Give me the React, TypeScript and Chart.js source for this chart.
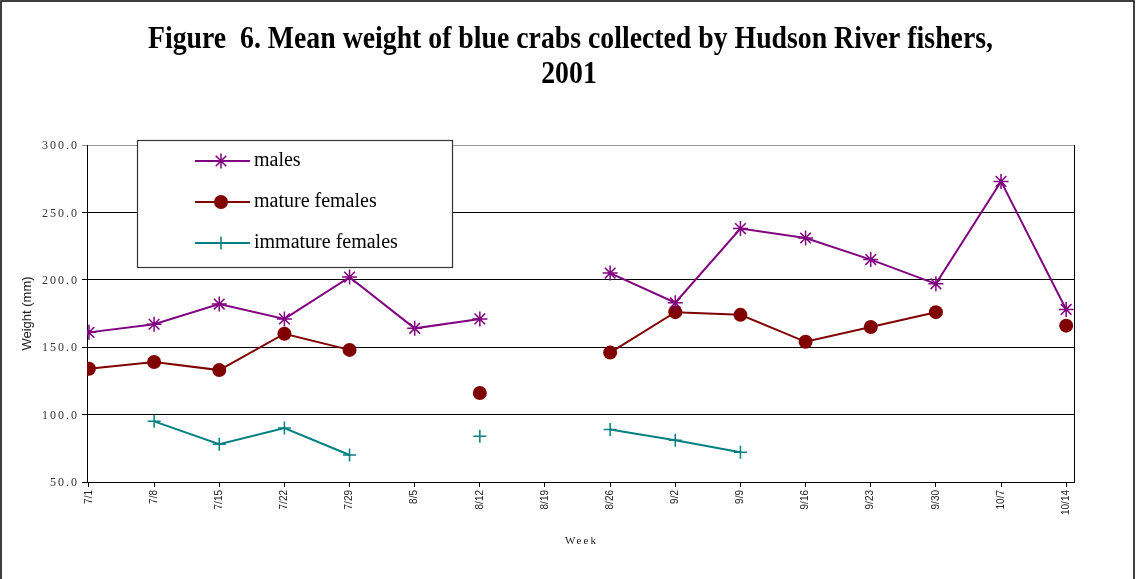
import React, { useEffect, useRef } from "react";
import { Chart, registerables } from "chart.js";

Chart.register(...registerables);

// Sampling weeks (2001)
const weeks = ["7/1", "7/8", "7/15", "7/22", "7/29", "8/5", "8/12", "8/19", "8/26", "9/2", "9/9", "9/16", "9/23", "9/30", "10/7", "10/14"];

// Mean weight per week; null = no crabs of that group that week
const males = [161, 167, 182, 171, 202, 164, 171, null, 205, 183, 238, 231, 215, 197, 273, 178];
const matureFemales = [134, 139, 133, 160, 148, null, 116, null, 146, 176, 174, 154, 165, 176, null, 166];
const immatureFemales = [null, 95, 78, 90, 70, null, 84, null, 89, 81, 72, null, null, null, null, null];

const yTicks = [50, 100, 150, 200, 250, 300];

const PURPLE = "#800080";
const MAROON = "#800000";
const TEAL = "#008080";

const toPoints = (vals: (number | null)[]) => vals.map((v, i) => ({ x: i, y: v }));

const W = 1138;
const H = 579;

function drawMarker(ctx: CanvasRenderingContext2D, style: string, x: number, y: number, color: string) {
  ctx.save();
  ctx.strokeStyle = color;
  ctx.fillStyle = color;
  ctx.lineWidth = 1.5;
  if (style === "star") {
    const r = 7.5;
    ctx.beginPath();
    ctx.moveTo(x, y - r);
    ctx.lineTo(x, y + r);
    ctx.moveTo(x - r, y);
    ctx.lineTo(x + r, y);
    const d = r * Math.SQRT1_2;
    ctx.moveTo(x - d, y - d);
    ctx.lineTo(x + d, y + d);
    ctx.moveTo(x - d, y + d);
    ctx.lineTo(x + d, y - d);
    ctx.stroke();
  } else if (style === "circle") {
    ctx.beginPath();
    ctx.arc(x, y, 7, 0, Math.PI * 2);
    ctx.fill();
  } else {
    const r = 6.5;
    ctx.beginPath();
    ctx.moveTo(x, y - r);
    ctx.lineTo(x, y + r);
    ctx.moveTo(x - r, y);
    ctx.lineTo(x + r, y);
    ctx.stroke();
  }
  ctx.restore();
}

const legendItems = [
  { label: "males", color: PURPLE, style: "star" },
  { label: "mature females", color: MAROON, style: "circle" },
  { label: "immature females", color: TEAL, style: "cross" },
];

const decorations = {
  id: "decorations",
  afterDraw(chart: any) {
    const ctx: CanvasRenderingContext2D = chart.ctx;
    const area = chart.chartArea;
    const yScale = chart.scales.y;

    ctx.save();

    // right edge of the plot frame
    ctx.strokeStyle = "#000";
    ctx.lineWidth = 1;
    ctx.beginPath();
    ctx.moveTo(Math.round(area.right) + 0.5, area.top);
    ctx.lineTo(Math.round(area.right) + 0.5, area.bottom);
    ctx.stroke();

    // y tick labels, spaced serif
    ctx.fillStyle = "#333";
    ctx.font = "12px 'Liberation Serif', serif";
    (ctx as any).letterSpacing = "2px";
    ctx.textAlign = "right";
    ctx.textBaseline = "middle";
    for (const v of yTicks) {
      ctx.fillText(v.toFixed(1), 79, yScale.getPixelForValue(v) + 1);
    }

    // x axis title
    ctx.font = "11px 'Liberation Serif', serif";
    (ctx as any).letterSpacing = "2px";
    ctx.textAlign = "center";
    ctx.fillStyle = "#222";
    ctx.fillText("Week", (area.left + area.right) / 2 + 1, 541);
    (ctx as any).letterSpacing = "0px";

    // y axis title
    ctx.save();
    ctx.translate(27, (area.top + area.bottom) / 2);
    ctx.rotate(-Math.PI / 2);
    ctx.font = "13px 'Liberation Sans', Arial, sans-serif";
    ctx.fillStyle = "#222";
    ctx.textAlign = "center";
    ctx.textBaseline = "middle";
    ctx.fillText("Weight (mm)", 0, 0);
    ctx.restore();

    // chart title, narrow bold serif
    ctx.fillStyle = "#000";
    ctx.font = "bold 31px 'Liberation Serif', serif";
    ctx.textAlign = "center";
    ctx.textBaseline = "alphabetic";
    const line1 = "Figure  6. Mean weight of blue crabs collected by Hudson River fishers,";
    const sx = 845 / ctx.measureText(line1).width;
    ctx.save();
    ctx.translate(570.5, 48);
    ctx.scale(sx, 1);
    ctx.fillText(line1, 0, 0);
    ctx.restore();
    ctx.save();
    ctx.translate(569, 83);
    ctx.scale(sx, 1);
    ctx.fillText("2001", 0, 0);
    ctx.restore();

    // legend box
    const bx = 137.5, by = 140.5, bw = 315, bh = 127;
    ctx.fillStyle = "#fff";
    ctx.fillRect(bx, by, bw, bh);
    ctx.strokeStyle = "#333";
    ctx.lineWidth = 1.2;
    ctx.strokeRect(bx, by, bw, bh);
    ctx.font = "20px 'Liberation Serif', serif";
    ctx.textAlign = "left";
    ctx.textBaseline = "middle";
    legendItems.forEach((item, i) => {
      const y = 161 + i * 41;
      ctx.strokeStyle = item.color;
      ctx.lineWidth = 2;
      ctx.beginPath();
      ctx.moveTo(195, y);
      ctx.lineTo(250, y);
      ctx.stroke();
      drawMarker(ctx, item.style, 221, y, item.color);
      ctx.fillStyle = "#000";
      ctx.fillText(item.label, 254, y);
    });

    // outer frame
    ctx.strokeStyle = "#000";
    ctx.lineWidth = 1.5;
    ctx.beginPath();
    ctx.moveTo(1, H);
    ctx.lineTo(1, 1);
    ctx.lineTo(1134, 1);
    ctx.lineTo(1134, H);
    ctx.stroke();

    ctx.restore();
  },
};

export default function App() {
  const canvasRef = useRef<HTMLCanvasElement | null>(null);

  useEffect(() => {
    const canvas = canvasRef.current;
    if (!canvas) return;

    const chart = new Chart(canvas, {
      type: "line",
      data: {
        datasets: [
          {
            label: "males",
            data: toPoints(males),
            borderColor: PURPLE,
            backgroundColor: PURPLE,
            borderWidth: 2,
            pointStyle: "star",
            pointRadius: 7.5,
            pointBorderWidth: 1.5,
            spanGaps: false,
          },
          {
            label: "mature females",
            data: toPoints(matureFemales),
            borderColor: MAROON,
            backgroundColor: MAROON,
            borderWidth: 2,
            pointStyle: "circle",
            pointRadius: 7,
            pointBorderWidth: 0,
            spanGaps: false,
          },
          {
            label: "immature females",
            data: toPoints(immatureFemales),
            borderColor: TEAL,
            backgroundColor: TEAL,
            borderWidth: 2,
            pointStyle: "cross",
            pointRadius: 6.5,
            pointBorderWidth: 1.5,
            spanGaps: false,
          },
        ] as any,
      },
      options: {
        responsive: false,
        animation: false,
        devicePixelRatio: 1,
        layout: { padding: { top: 145, left: 0, right: W - 1074, bottom: 0 } },
        plugins: {
          legend: { display: false },
          title: { display: false },
          tooltip: { enabled: false },
        },
        scales: {
          x: {
            type: "linear",
            min: -0.03,
            max: 15.12,
            afterBuildTicks: (scale: any) => {
              scale.ticks = weeks.map((_, i) => ({ value: i }));
            },
            afterFit: (scale: any) => {
              scale.height = 97;
            },
            ticks: {
              autoSkip: false,
              minRotation: 90,
              maxRotation: 90,
              padding: 3,
              color: "#222",
              font: { family: "'Liberation Sans', Arial, sans-serif", size: 10 },
              callback: (v: any) => weeks[v as number] ?? "",
            },
            grid: {
              drawOnChartArea: false,
              drawTicks: true,
              tickLength: 5,
              color: "#000",
            },
            border: { display: true, color: "#000", width: 1 },
          },
          y: {
            min: 50,
            max: 300,
            afterBuildTicks: (scale: any) => {
              scale.ticks = yTicks.map((v) => ({ value: v }));
            },
            afterFit: (scale: any) => {
              scale.width = 87;
            },
            ticks: { display: false },
            grid: {
              drawTicks: true,
              tickLength: 5,
              color: (c: any) => (c.tick && c.tick.value === 300 ? "#999" : "#000"),
              lineWidth: 1,
            },
            border: { display: true, color: "#000", width: 1 },
          },
        },
      },
      plugins: [decorations],
    });

    return () => chart.destroy();
  }, []);

  return (
    <div style={{ position: "absolute", left: 0, top: 0, width: W, height: H, background: "#fff" }}>
      <canvas ref={canvasRef} width={W} height={H} style={{ width: W, height: H, display: "block" }} />
    </div>
  );
}
